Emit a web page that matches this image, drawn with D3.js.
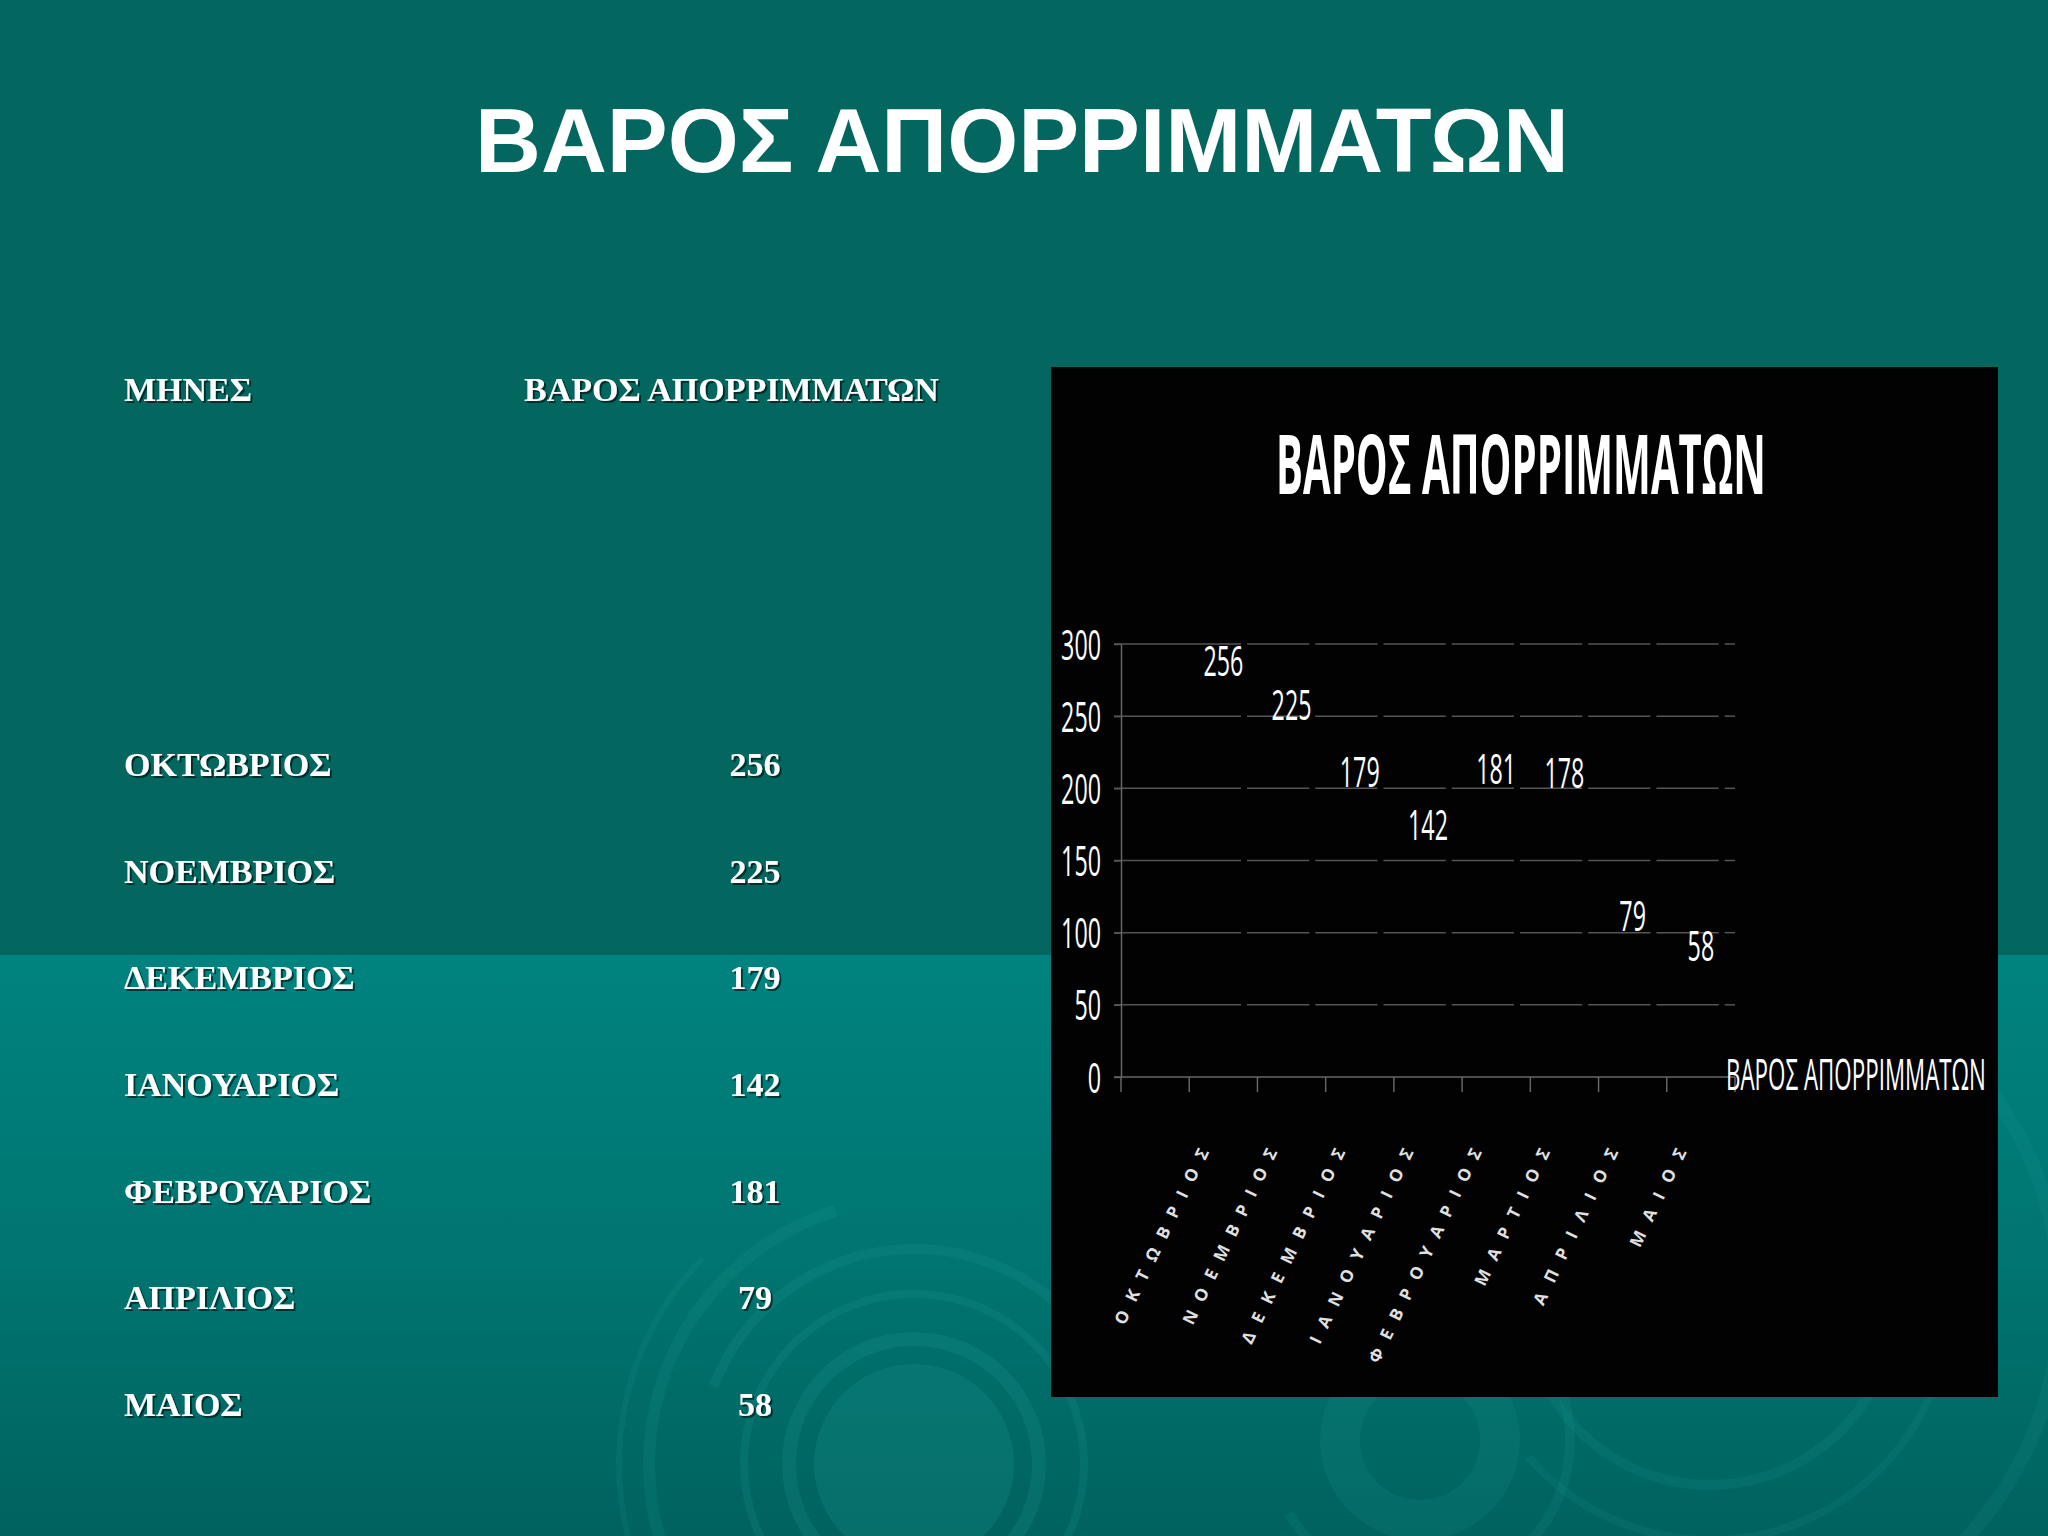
<!DOCTYPE html>
<html lang="el">
<head>
<meta charset="utf-8">
<script src="https://d3js.org/d3.v7.min.js"></script>
<title>ΒΑΡΟΣ ΑΠΟΡΡΙΜΜΑΤΩΝ</title>
<style>
  body { margin: 0; padding: 0; background: #03665f; }
  svg { display: block; }
  .tbl { font-family: "Liberation Serif", "Times New Roman", serif; font-weight: bold; font-size: 34px; fill: #ffffff; }
  .cond { font-family: "Open Sans", sans-serif; fill: #ffffff; }
</style>
</head>
<body>
<div id="slide"></div>
<script>
// chart data
var months = ["ΟΚΤΩΒΡΙΟΣ", "ΝΟΕΜΒΡΙΟΣ", "ΔΕΚΕΜΒΡΙΟΣ", "ΙΑΝΟΥΑΡΙΟΣ", "ΦΕΒΡΟΥΑΡΙΟΣ", "ΜΑΡΤΙΟΣ", "ΑΠΡΙΛΙΟΣ", "ΜΑΙΟΣ"];
var weights = [256, 225, 179, 142, 181, 178, 79, 58];
var yTicks = [0, 50, 100, 150, 200, 250, 300];

// table on the left of the slide
var tableMonths = ["ΟΚΤΩΒΡΙΟΣ", "ΝΟΕΜΒΡΙΟΣ", "ΔΕΚΕΜΒΡΙΟΣ", "ΙΑΝΟΥΑΡΙΟΣ", "ΦΕΒΡΟΥΑΡΙΟΣ", "ΑΠΡΙΛΙΟΣ", "ΜΑΙΟΣ"];
var tableValues = [256, 225, 179, 142, 181, 79, 58];
var tableHeaders = ["ΜΗΝΕΣ", "ΒΑΡΟΣ ΑΠΟΡΡΙΜΜΑΤΩΝ"];

var slideTitle = "ΒΑΡΟΣ ΑΠΟΡΡΙΜΜΑΤΩΝ";
var chartTitle = "ΒΑΡΟΣ ΑΠΟΡΡΙΜΜΑΤΩΝ";
var seriesName = "ΒΑΡΟΣ ΑΠΟΡΡΙΜΜΑΤΩΝ";

var width = 2048, height = 1536;

var svg = d3.select("#slide").append("svg")
  .attr("width", width)
  .attr("height", height);

var defs = svg.append("defs");

var grad = defs.append("linearGradient")
  .attr("id", "lower").attr("x1", 0).attr("y1", 0).attr("x2", 0).attr("y2", 1);
grad.append("stop").attr("offset", "0%").attr("stop-color", "#00837f");
grad.append("stop").attr("offset", "55%").attr("stop-color", "#007470");
grad.append("stop").attr("offset", "100%").attr("stop-color", "#00625e");

var shadow = defs.append("filter").attr("id", "shadow")
  .attr("x", "-10%").attr("y", "-20%").attr("width", "130%").attr("height", "150%");
shadow.append("feDropShadow")
  .attr("dx", 2).attr("dy", 2).attr("stdDeviation", 0.6)
  .attr("flood-color", "#000").attr("flood-opacity", 0.55);

// squeeze a text horizontally to a given width (the slide uses a condensed face)
function fit(sel, x0, y0, w, anchor) {
  var node = sel.node();
  var natural = node.getComputedTextLength();
  var k = w / natural;
  var left = anchor === "middle" ? x0 - w / 2 : x0;
  sel.attr("x", 0).attr("y", 0).attr("text-anchor", "start")
    .attr("transform", "translate(" + left + "," + y0 + ") scale(" + k + ",1)");
}

// background bands
svg.append("rect").attr("x", 0).attr("y", 0).attr("width", width).attr("height", 955).attr("fill", "#03665f");
svg.append("rect").attr("x", 0).attr("y", 955).attr("width", width).attr("height", height - 955).attr("fill", "url(#lower)");

// decorative rings
var deco = svg.append("g");
var arc = d3.arc();
function ring(cx, cy, r, w, a0, a1, op) {
  deco.append("path")
    .attr("transform", "translate(" + cx + "," + cy + ")")
    .attr("d", arc({innerRadius: r - w / 2, outerRadius: r + w / 2, startAngle: a0, endAngle: a1}))
    .attr("fill", "#2aa8a2")
    .attr("opacity", op);
}
deco.append("circle").attr("cx", 914).attr("cy", 1464).attr("r", 100)
  .attr("fill", "#1a958f").attr("opacity", 0.25);
ring(914, 1464, 125, 14, 0, 2 * Math.PI, 0.16);
ring(914, 1464, 170, 8, -2.6, 2.4, 0.14);
ring(914, 1464, 215, 10, -1.2, 0.9, 0.14);
ring(914, 1464, 265, 12, -2.9, -0.3, 0.13);
ring(914, 1464, 295, 6, -2.0, -0.8, 0.12);
ring(1420, 1440, 80, 40, 0, 2 * Math.PI, 0.12);
ring(1420, 1440, 150, 10, 1.2, 4.2, 0.12);
ring(1710, 1300, 185, 10, 1.6, 4.4, 0.12);
ring(1710, 1300, 240, 8, 1.9, 4.0, 0.11);
ring(1710, 1300, 350, 14, 0.6, 2.4, 0.11);

// slide title
var st = svg.append("text")
  .style("font-family", "'Liberation Sans', Arial, sans-serif")
  .style("font-weight", "bold").style("font-size", "91px")
  .style("fill", "#ffffff")
  .text(slideTitle);
fit(st, 1022, 172, 1094, "middle");

// table
var tbl = svg.append("g").attr("filter", "url(#shadow)");
tbl.append("text").attr("class", "tbl").attr("x", 124).attr("y", 401).text(tableHeaders[0]);
tbl.append("text").attr("class", "tbl").attr("x", 524).attr("y", 401).text(tableHeaders[1]);

var rowY = d3.scalePoint().domain(tableMonths).range([776, 1416]);

tbl.selectAll(".tm").data(tableMonths).enter().append("text")
  .attr("class", "tbl tm")
  .attr("x", 124).attr("y", function(d) { return rowY(d); })
  .text(function(d) { return d; });

tbl.selectAll(".tv").data(tableValues).enter().append("text")
  .attr("class", "tbl tv")
  .attr("x", 755).attr("y", function(d, i) { return rowY(tableMonths[i]); })
  .attr("text-anchor", "middle")
  .text(function(d) { return d; });

// chart panel
svg.append("rect").attr("x", 1051).attr("y", 367).attr("width", 947).attr("height", 1030).attr("fill", "#020202");

var ct = svg.append("text").attr("class", "cond")
  .style("font-weight", "bold").style("font-size", "83px")
  .text(chartTitle);
fit(ct, 1521, 494, 490, "middle");

var x = d3.scaleBand().domain([""].concat(months)).range([1121, 1735]);
var y = d3.scaleLinear().domain([0, 300]).range([1077, 644]);
var bw = x.bandwidth();

// gridlines, broken into segments like the source rendering
var gaps = months.map(function(m) { return x(m) + bw * 0.76; });
var segs = [];
var starts = [1114].concat(gaps.map(function(g) { return g + 6; }));
var ends = gaps.concat([x.range()[1]]);
yTicks.filter(function(t) { return t > 0; }).forEach(function(t) {
  starts.forEach(function(s, i) { segs.push({t: t, x1: s, x2: ends[i]}); });
});
svg.append("g").selectAll("line").data(segs).enter().append("line")
  .attr("x1", function(d) { return d.x1; })
  .attr("x2", function(d) { return d.x2; })
  .attr("y1", function(d) { return y(d.t); })
  .attr("y2", function(d) { return y(d.t); })
  .attr("stroke", "#555555").attr("stroke-width", 1.5);

// y axis
var yAxis = svg.append("g")
  .attr("transform", "translate(1121,0)")
  .call(d3.axisLeft(y).tickValues(yTicks).tickSizeInner(7).tickSizeOuter(0).tickPadding(13));
yAxis.select(".domain").attr("stroke", "#666666").attr("stroke-width", 1.5);
yAxis.selectAll(".tick line").attr("stroke", "#555555").attr("stroke-width", 1.5);
yAxis.selectAll(".tick text")
  .attr("class", "cond")
  .attr("fill", "#ffffff")
  .attr("dy", "0.36em")
  .attr("textLength", function(d) { return String(d).length * 13.3; })
  .attr("lengthAdjust", "spacingAndGlyphs")
  .style("font-size", "42px");

// x axis line and ticks at band edges
svg.append("line")
  .attr("x1", 1114).attr("x2", x.range()[1])
  .attr("y1", y(0)).attr("y2", y(0))
  .attr("stroke", "#666666").attr("stroke-width", 1.5);
svg.append("g").selectAll("line")
  .data(x.domain().map(function(d) { return x(d); }).concat([x.range()[1]]))
  .enter().append("line")
  .attr("x1", function(d) { return d; }).attr("x2", function(d) { return d; })
  .attr("y1", y(0)).attr("y2", y(0) + 15)
  .attr("stroke", "#666666").attr("stroke-width", 1.5);

// rotated category labels
svg.append("g").selectAll("text").data(months).enter().append("text")
  .attr("class", "cond")
  .attr("text-anchor", "end")
  .attr("transform", function(d) {
    return "translate(" + (x(d) + bw / 2 - 14) + ",1152) rotate(-64)";
  })
  .attr("textLength", function(d) { return d.length * 21.5; })
  .attr("lengthAdjust", "spacing")
  .style("font-size", "17px")
  .style("font-weight", "bold")
  .style("fill", "#e0e0e0")
  .text(function(d) { return d; });

// data labels
svg.append("g").selectAll("text").data(weights).enter().append("text")
  .attr("class", "cond")
  .attr("x", function(d, i) { return x(months[i]) + bw / 2; })
  .attr("y", function(d) { return y(d) - 32; })
  .attr("text-anchor", "middle")
  .attr("textLength", function(d) { return String(d).length * 13.3; })
  .attr("lengthAdjust", "spacingAndGlyphs")
  .style("font-size", "42px")
  .text(function(d) { return d; });

// legend
var lg = svg.append("text").attr("class", "cond")
  .style("font-size", "43px")
  .text(seriesName);
fit(lg, 1726, 1090, 260, "start");
</script>
</body>
</html>
